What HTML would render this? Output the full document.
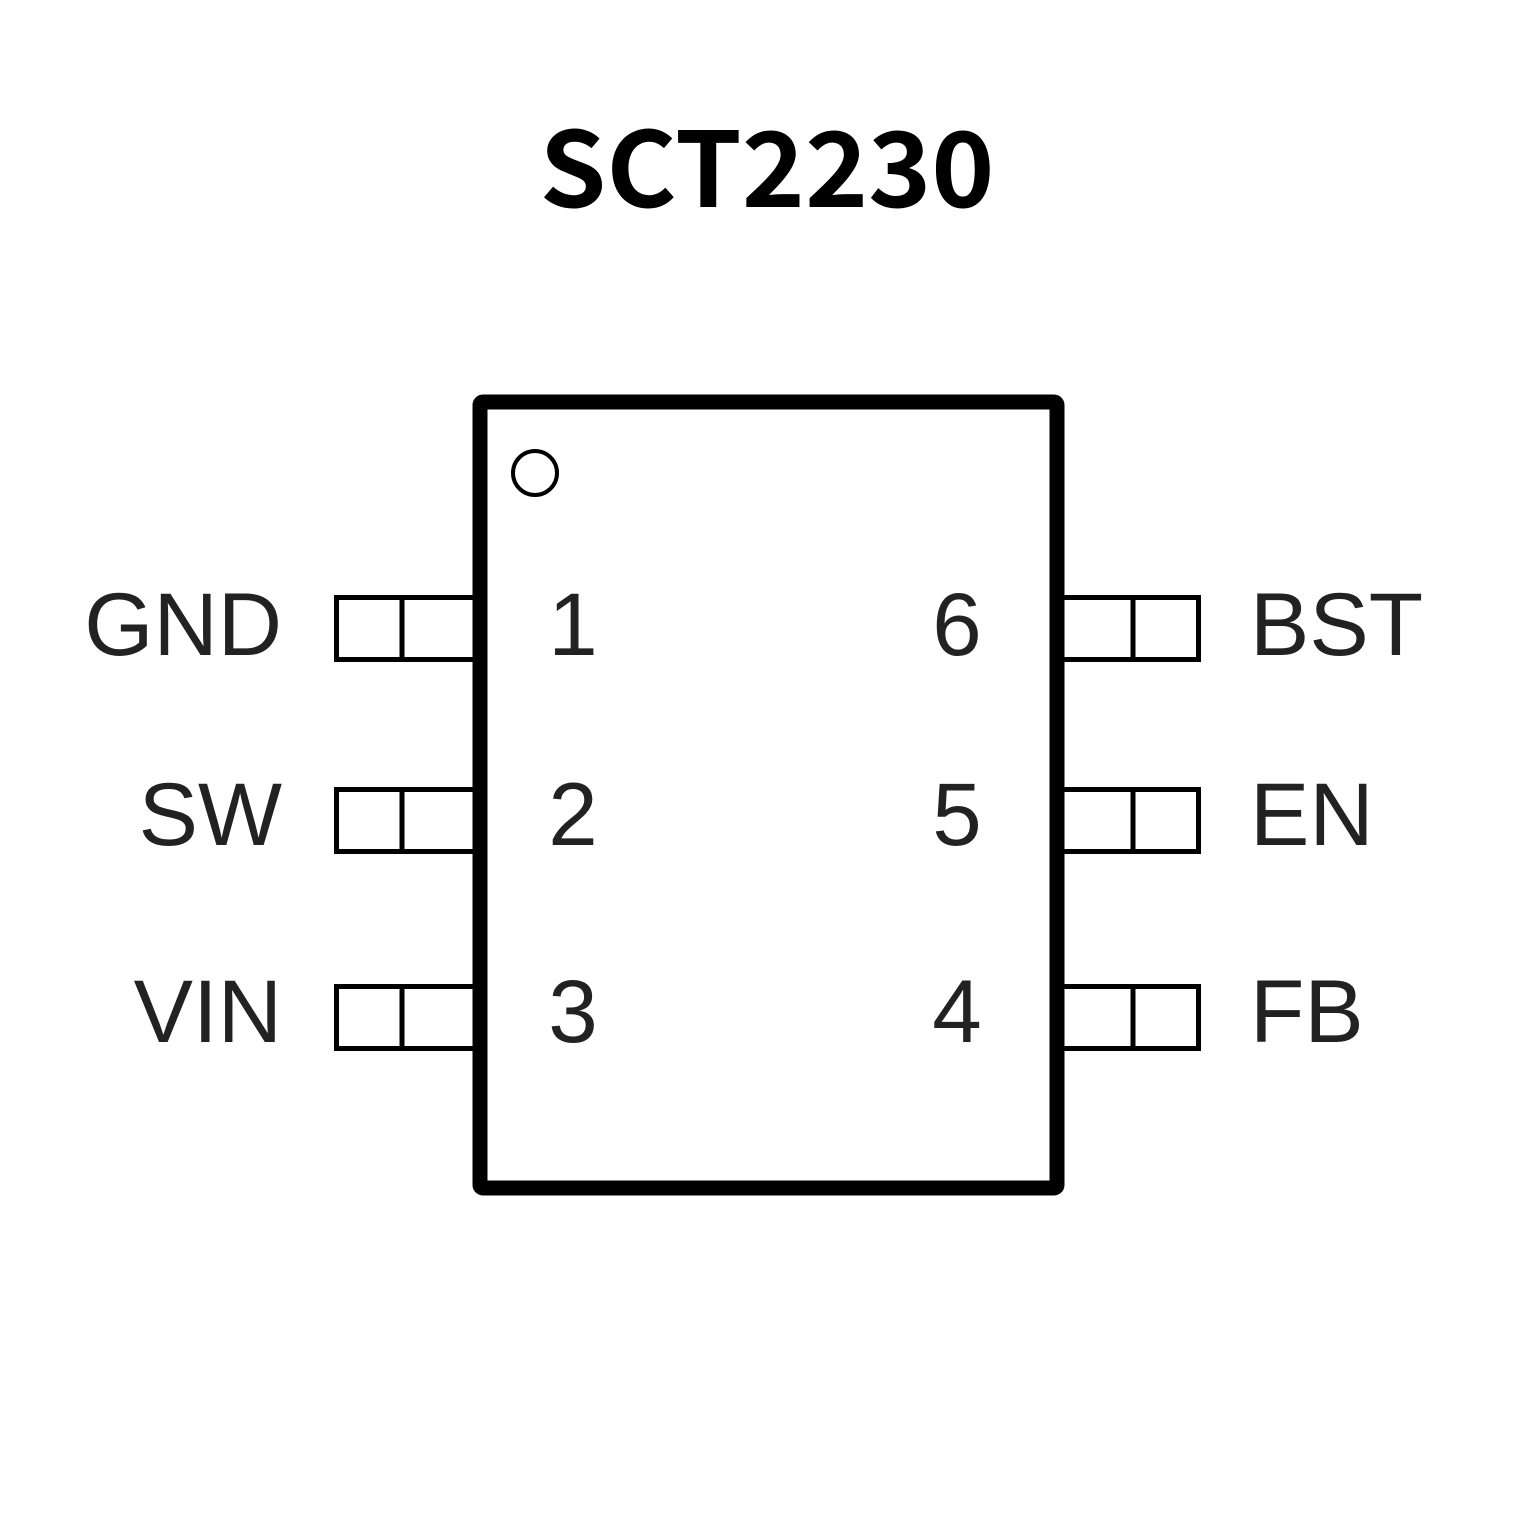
<!DOCTYPE html>
<html><head><meta charset="utf-8"><style>html,body{margin:0;padding:0;background:#fff}</style></head>
<body>
<svg width="1535" height="1535" viewBox="0 0 1535 1535" xmlns="http://www.w3.org/2000/svg">
<rect width="1535" height="1535" fill="#fff"/>
<text x="767" y="207" text-anchor="middle" font-family="Noto Sans CJK SC, Liberation Sans, sans-serif" font-weight="bold" font-size="104" textLength="455" lengthAdjust="spacingAndGlyphs">SCT2230</text>
<rect x="480" y="402" width="577" height="786" fill="none" stroke="#000" stroke-width="15" rx="3"/>
<circle cx="535" cy="473" r="22" fill="none" stroke="#000" stroke-width="4"/>
<g fill="none" stroke="#000" stroke-width="5">
<rect x="336.5" y="597.5" width="140" height="62"/><line x1="402" y1="597" x2="402" y2="660"/>
<rect x="336.5" y="789.5" width="140" height="62"/><line x1="402" y1="789" x2="402" y2="852"/>
<rect x="336.5" y="986.5" width="140" height="62"/><line x1="402" y1="986" x2="402" y2="1049"/>
<rect x="1060.5" y="597.5" width="138" height="62"/><line x1="1133" y1="597" x2="1133" y2="660"/>
<rect x="1060.5" y="789.5" width="138" height="62"/><line x1="1133" y1="789" x2="1133" y2="852"/>
<rect x="1060.5" y="986.5" width="138" height="62"/><line x1="1133" y1="986" x2="1133" y2="1049"/>
</g>
<g font-family="Liberation Sans, sans-serif" font-size="89" fill="#222">
<text x="282" y="655" text-anchor="end">GND</text>
<text x="282" y="845" text-anchor="end">SW</text>
<text x="282" y="1042" text-anchor="end">VIN</text>
<text x="1250" y="655">BST</text>
<text x="1250" y="845">EN</text>
<text x="1250" y="1042">FB</text>
<text x="573" y="655" text-anchor="middle">1</text>
<text x="573" y="845" text-anchor="middle">2</text>
<text x="573" y="1042" text-anchor="middle">3</text>
<text x="957" y="655" text-anchor="middle">6</text>
<text x="957" y="845" text-anchor="middle">5</text>
<text x="957" y="1042" text-anchor="middle">4</text>
</g>
</svg>
</body></html>
